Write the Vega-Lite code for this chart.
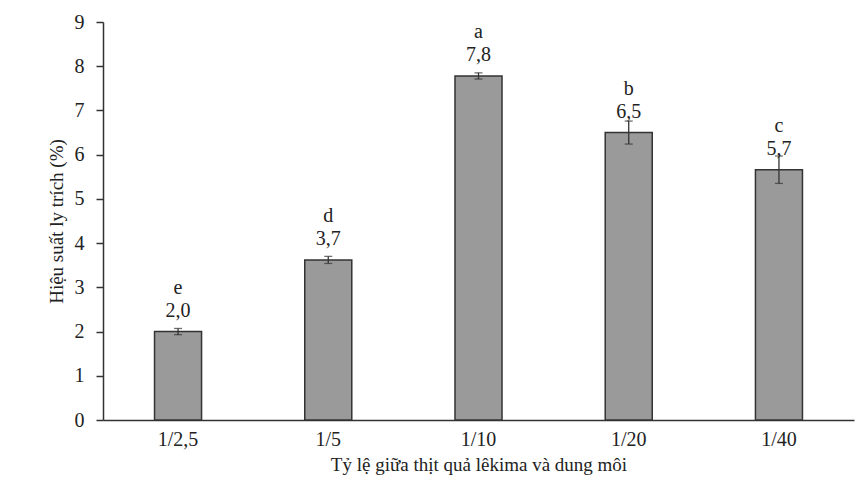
{
  "$schema": "https://vega.github.io/schema/vega-lite/v6.json",
  "autosize": {"type": "none"},
  "width": 751,
  "height": 398,
  "padding": {"left": 103, "top": 22, "right": 9, "bottom": 80},
  "background": "white",
  "config": {
    "view": {"stroke": null},
    "font": "Liberation Serif",
    "axis": {"labelFont": "Liberation Serif", "titleFont": "Liberation Serif", "labelColor": "#222", "titleColor": "#222", "domainColor": "#333", "tickColor": "#333", "titleFontWeight": "normal"}
  },
  "data": {
    "values": [
      {"cat": "1/2,5", "value": 2.0, "lo": 1.93, "hi": 2.07, "label": "2,0", "letter": "e"},
      {"cat": "1/5", "value": 3.62, "lo": 3.54, "hi": 3.70, "label": "3,7", "letter": "d"},
      {"cat": "1/10", "value": 7.78, "lo": 7.71, "hi": 7.85, "label": "7,8", "letter": "a"},
      {"cat": "1/20", "value": 6.5, "lo": 6.24, "hi": 6.76, "label": "6,5", "letter": "b"},
      {"cat": "1/40", "value": 5.66, "lo": 5.35, "hi": 5.97, "label": "5,7", "letter": "c"}
    ]
  },
  "encoding": {
    "x": {
      "field": "cat", "type": "nominal", "sort": null,
      "scale": {"paddingInner": 0.687, "paddingOuter": 0.343},
      "axis": {"labelAngle": 0, "ticks": false, "labelFontSize": 20, "labelPadding": 9, "title": "Tỷ lệ giữa thịt quả lêkima và dung môi", "titleFontSize": 19, "titlePadding": 6, "domainWidth": 1.5}
    }
  },
  "layer": [
    {
      "mark": {"type": "bar", "fill": "#9a9a9a", "stroke": "#333", "strokeWidth": 1.5},
      "encoding": {
        "y": {
          "field": "value", "type": "quantitative",
          "scale": {"domain": [0, 9], "nice": false},
          "axis": {"values": [0,1,2,3,4,5,6,7,8,9], "grid": false, "tickSize": 7, "tickWidth": 1.5, "domainWidth": 1.5, "labelFontSize": 20, "labelPadding": 12, "title": "Hiệu suất ly trích (%)", "titleFontSize": 19, "titlePadding": 8}
        }
      }
    },
    {
      "mark": {"type": "rule", "color": "#333", "strokeWidth": 1.3},
      "encoding": {"y": {"field": "lo", "type": "quantitative"}, "y2": {"field": "hi"}}
    },
    {
      "mark": {"type": "tick", "color": "#333", "size": 8, "thickness": 1.3, "orient": "horizontal"},
      "encoding": {"y": {"field": "lo", "type": "quantitative"}}
    },
    {
      "mark": {"type": "tick", "color": "#333", "size": 8, "thickness": 1.3, "orient": "horizontal"},
      "encoding": {"y": {"field": "hi", "type": "quantitative"}}
    },
    {
      "mark": {"type": "text", "fontSize": 20, "dy": -21, "color": "#222", "baseline": "middle"},
      "encoding": {"y": {"field": "value", "type": "quantitative"}, "text": {"field": "label"}}
    },
    {
      "mark": {"type": "text", "fontSize": 20, "dy": -44, "color": "#222", "baseline": "middle"},
      "encoding": {"y": {"field": "value", "type": "quantitative"}, "text": {"field": "letter"}}
    }
  ]
}
